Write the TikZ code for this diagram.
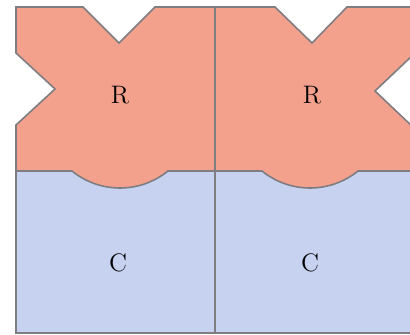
\documentclass[tikz,border=0pt]{standalone}
\usepackage{tikz}
\definecolor{rsalmon}{RGB}{243,160,140}
\definecolor{cblue}{RGB}{198,210,240}
\definecolor{edgegray}{RGB}{125,125,130}
\tikzset{
  piece/.style={draw=edgegray,line width=0.9pt,line join=miter},
  rpiece/.style={piece,fill=rsalmon},
  cpiece/.style={piece,fill=cblue},
  lbl/.style={font=\Large,inner sep=1pt},
}
\begin{document}
\begin{tikzpicture}[x=0.02cm,y=-0.02cm]
  \useasboundingbox (0,0) rectangle (410,335);
  \clip (0,0) rectangle (410,335);
  \draw[cpiece] (16,171) rectangle (215,333);
  \draw[cpiece] (215,171) rectangle (414,333);
  \draw[rpiece] (16,7) -- (83,7) -- (119,43) -- (155,7) -- (215,7) -- (215,171)
    -- (168,171) arc[start angle=51,end angle=129,radius=76.3] -- (16,171)
    -- (16,125) -- (55,89) -- (16,53) -- cycle;
  \draw[rpiece] (215,7) -- (275,7) -- (312,43) -- (347,7) -- (414,7) -- (414,54)
    -- (375,91) -- (414,128) -- (414,171)
    -- (358,171) arc[start angle=51,end angle=129,radius=76.3] -- (215,171) -- cycle;
  \node[lbl] (r1) at (120,95) {R};
  \node[lbl] (r2) at (312,95) {R};
  \node[lbl] (c1) at (118,263) {C};
  \node[lbl] (c2) at (310,263) {C};
\end{tikzpicture}
\end{document}
